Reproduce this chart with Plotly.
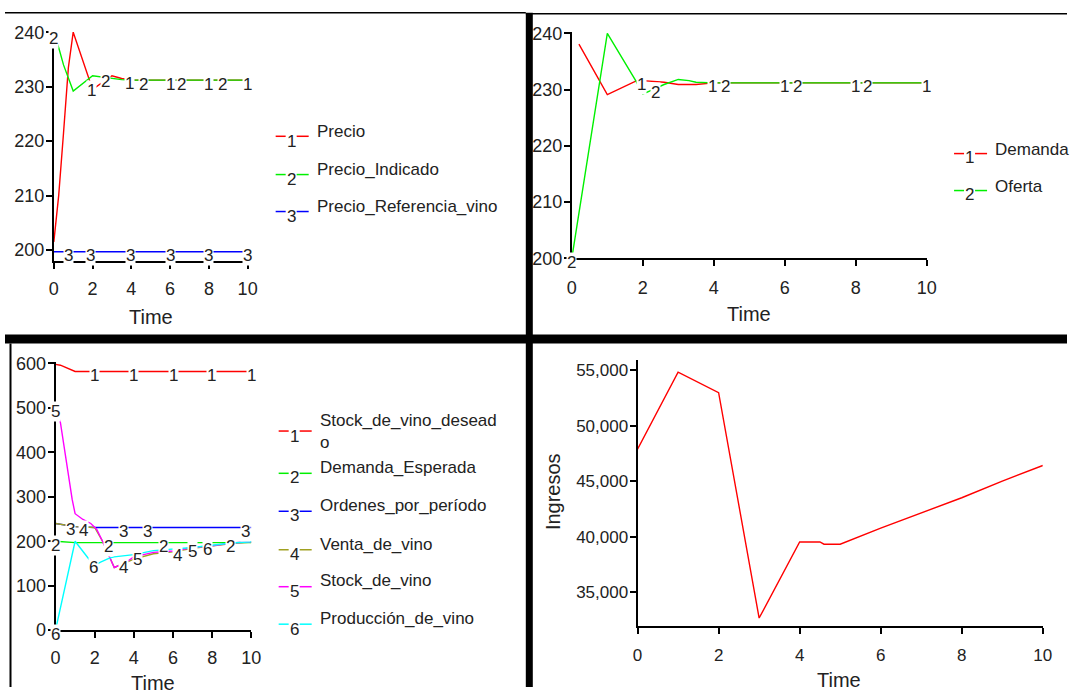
import numpy as np
import plotly.graph_objects as go

W, H = 1077, 697
FONT = "Liberation Sans, Arial, sans-serif"
INK = "#222222"

# --------------------------
# Panel 1: precios
# --------------------------
T_PRECIO = [0, 0.25, 0.5, 0.75, 1, 2, 3, 3.5, 4, 5, 6, 7, 8, 9, 10]
PRECIO = [201.5, 210, 221.5, 233.5, 240, 229.5, 232, 231.5, 231.2, 231.2, 231.2, 231.2, 231.2, 231.2, 231.2]
T_PRECIO_IND = [0, 0.25, 0.5, 1, 2, 3, 3.5, 4, 5, 6, 7, 8, 9, 10]
PRECIO_IND = [239.5, 237.2, 234, 229.2, 232, 231.5, 231.3, 231.2, 231.2, 231.2, 231.2, 231.2, 231.2, 231.2]
T_PRECIO_REF = [0, 1, 2, 3, 4, 5, 6, 7, 8, 9, 10]
PRECIO_REF = [199.7] * 11
P1_NAMES = ["Precio", "Precio_Indicado", "Precio_Referencia_vino"]
P1_LABEL_T = [[1.95, 3.9, 6, 8, 10], [0, 2.66, 4.64, 6.6, 8.7], [0.77, 1.89, 3.95, 6, 8, 10]]

# --------------------------
# Panel 2: demanda / oferta
# --------------------------
T_DEMANDA = [0.2, 1, 1.8, 2, 2.6, 3, 3.5, 4, 5, 6, 7, 8, 9, 10]
DEMANDA = [238.1, 229.1, 231.5, 231.6, 231.3, 230.9, 230.9, 231.2, 231.2, 231.2, 231.2, 231.2, 231.2, 231.2]
T_OFERTA = [0, 1, 1.8, 2, 2.6, 3, 3.3, 3.5, 4, 5, 6, 7, 8, 9, 10]
OFERTA = [200, 240, 231.6, 229.2, 230.9, 231.8, 231.6, 231.3, 231.2, 231.2, 231.2, 231.2, 231.2, 231.2, 231.2]
P2_NAMES = ["Demanda", "Oferta"]
P2_LABEL_T = [[1.95, 3.97, 6, 8, 9.98], [0, 2.37, 4.34, 6.36, 8.34]]

# --------------------------
# Panel 3: stock / produccion
# --------------------------
T_DESEADO = [0, 0.25, 1, 2, 3, 4, 5, 6, 7, 8, 9, 10]
DESEADO = [598, 596, 582, 582, 582, 582, 582, 582, 582, 582, 582, 582]
T_DEM_ESP = [0, 1, 2, 3, 4, 5, 6, 7, 8, 9, 10]
DEM_ESP = [200, 197, 197, 197, 197, 197, 197, 197, 197, 197, 197]
T_ORDENES = [0, 1, 2, 3, 4, 5, 6, 7, 8, 9, 10]
ORDENES = [240, 233, 231, 231, 231, 231, 231, 231, 231, 231, 231]
T_VENTA = [0, 1, 2, 2.4, 3, 4, 5, 6, 7, 8, 9, 10]
VENTA = [240, 233, 231, 200, 141, 160, 172, 176, 184, 189, 195, 198]
T_STOCK = [0, 0.25, 0.85, 1, 1.4, 1.8, 2.1, 2.4, 3, 3.5, 4, 5, 6, 7, 8, 9, 10]
STOCK = [500, 467, 294, 262, 249, 240, 227, 200, 141, 150, 165, 175, 178, 186, 190, 196, 199]
T_PRODUCCION = [0, 1, 1.7, 2, 2.3, 2.75, 3, 4, 5, 6, 7, 8, 9, 10]
PRODUCCION = [0, 200, 160, 146, 153, 162, 165, 170, 179, 182, 186, 191, 196, 199]
P3_NAMES = ["Stock_de_vino_desead<br>o", "Demanda_Esperada", "Ordenes_por_período",
            "Venta_de_vino", "Stock_de_vino", "Producción_de_vino"]
P3_LABEL_T = [[2, 4, 6, 7.95, 10], [0, 2.72, 5.53, 8.94], [0.77, 3.49, 4.69, 9.7],
              [1.45, 3.49, 6.25], [0, 4.2, 6.98], [0, 1.93, 7.75]]

# --------------------------
# Panel 4: ingresos
# --------------------------
T_INGRESOS = [0, 1, 2, 3, 4, 4.5, 4.6, 5, 6, 7, 8, 9, 10]
INGRESOS = [47900, 54850, 53000, 32700, 39550, 39550, 39350, 39350, 40800, 42170, 43530, 45030, 46440]

COLORS = ["#ff0000", "#00f000", "#0000ff", "#a0a020", "#ff00ff", "#00ffff"]

# the photographed page sits slightly inset/shrunk; map picture pixels to page fractions
SX0, SXK = 4.5, 0.9855
SY0, SYK = 8.3, 0.975


def X(px):
    return (px - SX0) / SXK / W


def Y(py):
    return 1 - (py - SY0) / SYK / H


fig = go.Figure()
annotations = []
shapes = []


def note(x, y, text, size=17, **kw):
    d = dict(x=x, y=y, xref="paper", yref="paper", text=text, showarrow=False,
             xanchor="center", yanchor="middle", font=dict(size=size, color=INK, family=FONT))
    d.update(kw)
    annotations.append(d)


def add_series(T, V, color, ax, ay, labels, digit):
    fig.add_trace(go.Scatter(x=T, y=V, mode="lines", line=dict(color=color, width=1.4),
                             xaxis=ax, yaxis=ay, showlegend=False, hoverinfo="skip"))
    ys = np.interp(labels, T, V)
    for t, v in zip(labels, ys):
        annotations.append(dict(x=t, y=v, xref=ax, yref=ay, text=str(digit), showarrow=False,
                                xanchor="center", yanchor="middle",
                                font=dict(size=17, color=INK, family=FONT), bgcolor="white",
                                borderpad=0, yshift=-4))


def add_legend(names, text_y, dash_y, digit_y, dash_x, text_x):
    for i, name in enumerate(names):
        for x0, x1 in [(dash_x, dash_x + 10), (dash_x + 21, dash_x + 33)]:
            shapes.append(dict(type="line", xref="paper", yref="paper", x0=X(x0), x1=X(x1),
                               y0=Y(dash_y[i]), y1=Y(dash_y[i]), line=dict(color=COLORS[i], width=1.5)))
        note(X(dash_x + 15.5), Y(digit_y[i]), str(i + 1))
        note(X(text_x), Y(text_y[i]), name, xanchor="left", align="left")


# panel 1
for i, (T, V) in enumerate([(T_PRECIO, PRECIO), (T_PRECIO_IND, PRECIO_IND), (T_PRECIO_REF, PRECIO_REF)]):
    add_series(T, V, COLORS[i], "x", "y", P1_LABEL_T[i], i + 1)
# panel 2: demanda en rojo, oferta en verde
for i, (T, V) in enumerate([(T_DEMANDA, DEMANDA), (T_OFERTA, OFERTA)]):
    add_series(T, V, COLORS[i], "x2", "y2", P2_LABEL_T[i], i + 1)
# panel 3
p3 = [(T_DESEADO, DESEADO), (T_DEM_ESP, DEM_ESP), (T_ORDENES, ORDENES),
      (T_VENTA, VENTA), (T_STOCK, STOCK), (T_PRODUCCION, PRODUCCION)]
for i, (T, V) in enumerate(p3):
    add_series(T, V, COLORS[i], "x3", "y3", P3_LABEL_T[i], i + 1)
# panel 4
fig.add_trace(go.Scatter(x=T_INGRESOS, y=INGRESOS, mode="lines", line=dict(color="#ff0000", width=1.4),
                         xaxis="x4", yaxis="y4", showlegend=False))

add_legend(P1_NAMES, [131.7, 170, 206.7], [136.7, 175, 212], [141.7, 180, 216.7], 275, 314)
add_legend(P2_NAMES, [150, 187], [154, 191], [158, 195], 953, 992)
add_legend(P3_NAMES, [431.7, 468.3, 506.7, 545, 581.7, 619.3], [431.7, 474, 512, 550.5, 587.5, 625],
           [436.7, 478.3, 516.7, 555, 592, 630], 278, 317)

# axis titles
for cx, cy in [(150, 318), (748, 315), (152, 684), (838, 681)]:
    note(X(cx), Y(cy), "Time", size=20)
note(X(552), Y(492), "Ingresos", size=20, textangle=-90)

# black frame separators
shapes += [
    dict(type="line", xref="paper", yref="paper", x0=0, x1=X(525), y0=Y(13), y1=Y(13), line=dict(color="black", width=1.5)),
    dict(type="line", xref="paper", yref="paper", x0=X(525), x1=1, y0=Y(14), y1=Y(14), line=dict(color="black", width=1.5)),
    dict(type="rect", xref="paper", yref="paper", x0=X(525), x1=X(532), y0=0, y1=Y(13), fillcolor="black", line=dict(width=0)),
    dict(type="rect", xref="paper", yref="paper", x0=0, x1=1, y0=Y(344), y1=Y(335), fillcolor="black", line=dict(width=0)),
    dict(type="line", xref="paper", yref="paper", x0=X(10), x1=X(10), y0=0, y1=Y(344), line=dict(color="black", width=2)),
]

ax = dict(showline=True, linecolor="black", linewidth=2, ticks="outside", ticklen=6, tickwidth=2,
          tickcolor="black", showgrid=False, zeroline=False, fixedrange=True,
          tickfont=dict(size=18, color=INK, family=FONT))
small = dict(size=17, color=INK, family=FONT)

fig.update_layout(
    autosize=True,
    margin=dict(l=0, r=0, t=0, b=0),
    paper_bgcolor="white", plot_bgcolor="white",
    showlegend=False,
    xaxis=dict(ax, domain=[X(53.3), X(247)], range=[0, 10], dtick=2, anchor="y", ticklabelstandoff=4),
    yaxis=dict(ax, domain=[Y(262), Y(30.9)], range=[197.9, 240.3], dtick=10, anchor="x", ticklabelstandoff=-2),
    xaxis2=dict(ax, domain=[X(571), X(925.7)], range=[0, 10], dtick=2, anchor="y2", ticklabelstandoff=6),
    yaxis2=dict(ax, domain=[Y(258.7), Y(32)], range=[200, 240.3], dtick=10, anchor="x2", ticklabelstandoff=-2),
    xaxis3=dict(ax, domain=[X(55), X(250.7)], range=[0, 10], dtick=2, anchor="y3", ticklabelstandoff=4),
    yaxis3=dict(ax, domain=[Y(631), Y(362.7)], range=[0, 603], dtick=100, anchor="x3", ticklabelstandoff=-2),
    xaxis4=dict(ax, domain=[X(636.7), X(1041.7)], range=[0, 10], dtick=2, anchor="y4", ticklabelstandoff=6,
                tickfont=small),
    yaxis4=dict(ax, domain=[Y(627.3), Y(361)], range=[31940, 55900], dtick=5000, tickformat=",d", anchor="x4",
                ticklabelstandoff=-2, tickfont=small),
    annotations=annotations,
    shapes=shapes,
)

# fill the whole window with the figure, no page margin
pin = ("document.body.style.margin='0';document.body.style.overflow='hidden';"
       "var d=document.getElementById('{plot_id}');d.style.position='fixed';"
       "d.style.left='0px';d.style.top='0px';d.style.width='100vw';d.style.height='100vh';"
       "Plotly.Plots.resize(d);")
fig.write_html("out.html", config={"displayModeBar": False, "responsive": True},
               default_width="100vw", default_height="100vh", post_script=pin)
